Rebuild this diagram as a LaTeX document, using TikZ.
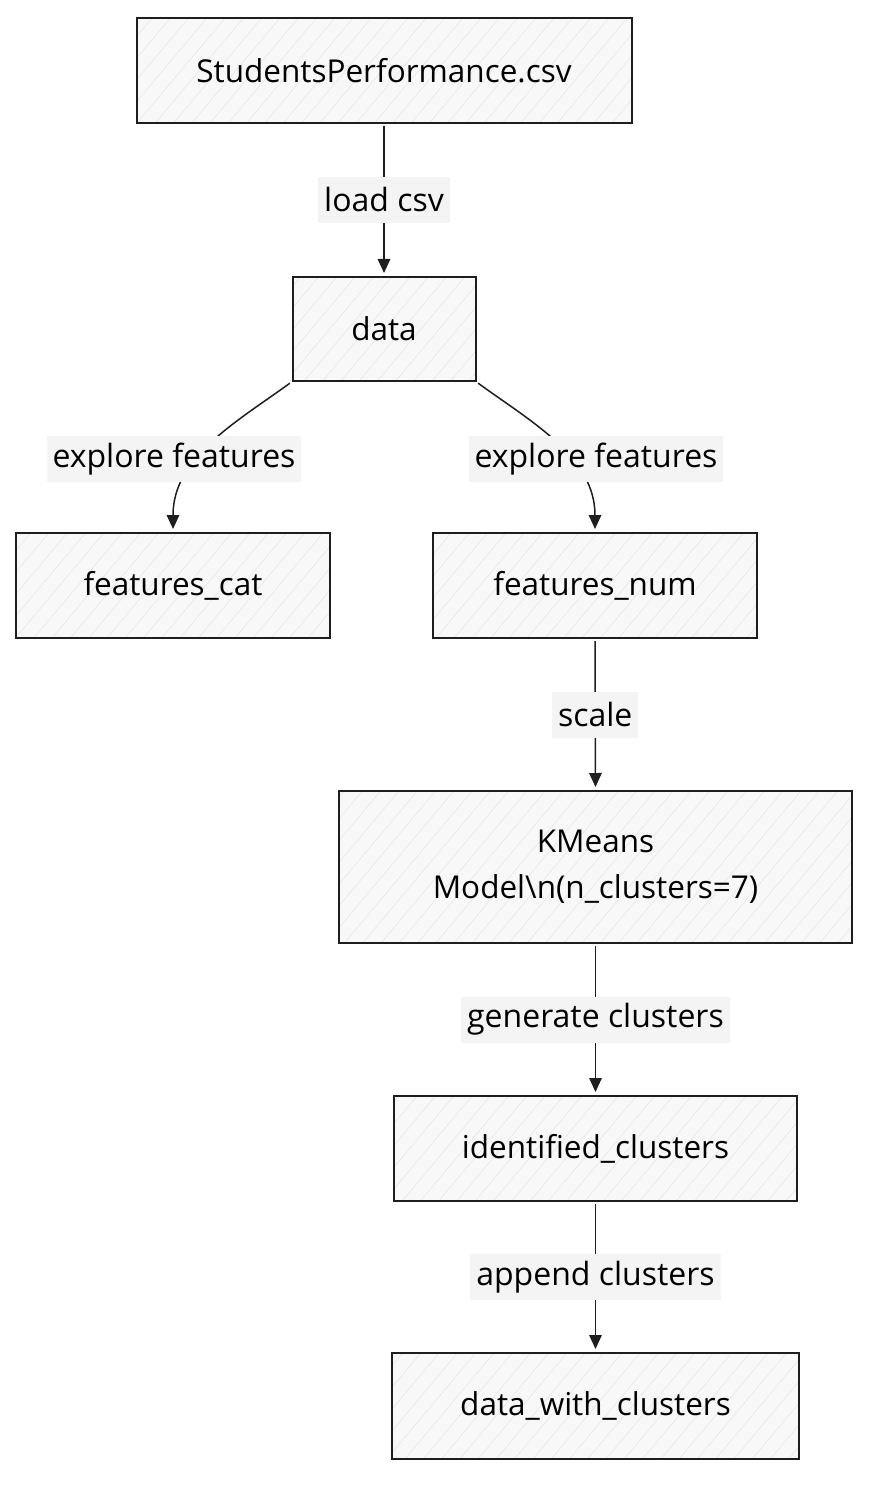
\documentclass[tikz,border=0pt]{standalone}
\usepackage{fontspec}
\setmainfont{Open Sans}
\usetikzlibrary{arrows.meta,patterns.meta}
\definecolor{boxfill}{HTML}{F8F8F8}
\definecolor{hatch}{HTML}{E4E4E4}
\definecolor{lblfill}{HTML}{F4F4F4}
\definecolor{edgecol}{HTML}{1E1E1E}
\tikzset{
  stepbox/.style={draw=edgecol, line width=2pt, minimum height=105pt, inner sep=0pt,
    preaction={fill=boxfill},
    pattern={Lines[angle=50,distance=14pt,line width=0.5pt]}, pattern color=hatch,
    font=\fontsize{31.5}{46}\selectfont, align=center},
  edgelbl/.style={fill=lblfill, inner xsep=6pt, inner ysep=0pt, minimum height=46pt,
    font=\fontsize{32}{36}\selectfont},
  arr/.style={-{Triangle[length=14pt,width=12.5pt]}, line width=1.5pt, draw=edgecol,
    shorten >=3pt, shorten <=2pt}
}
\begin{document}
\begin{tikzpicture}[x=1pt, y=-1pt]
    \useasboundingbox[fill=white] (0,0) rectangle (886,1506);
    % boxes
    \node[stepbox, minimum width=495pt] (csv) at (384,71) {StudentsPerformance.csv};
    \node[stepbox, minimum width=183pt, minimum height=104pt] (data) at (384,329) {data};
    \node[stepbox, minimum width=314pt] (fcat) at (173,585.5) {features\_cat};
    \node[stepbox, minimum width=324pt] (fnum) at (595,585.5) {features\_num};
    \node[stepbox, minimum width=513pt, minimum height=152pt] (kmeans) at (595.5,867)
        {KMeans\\Model\textbackslash n(n\_clusters=7)};
    \node[stepbox, minimum width=403pt] (ident) at (595.5,1148.5) {identified\_clusters};
    \node[stepbox, minimum width=407pt, minimum height=106pt] (dwc) at (595.5,1406) {data\_with\_clusters};
    % connectors
    \draw[arr] (csv.south) -- node[edgelbl] {load csv} (data.north);
    \draw[arr] (data.south west) .. controls +(-55,40) and +(0,-75) .. (fcat.north);
    \draw[arr] (data.south east) .. controls +(55,40) and +(0,-75) .. (fnum.north);
    \node[edgelbl] (lblcat) at (174,459) {explore features};
    \node[edgelbl] (lblnum) at (596,459) {explore features};
    \draw[arr] (fnum.south) -- node[edgelbl] {scale} (kmeans.north);
    \draw[arr] (kmeans.south) -- node[edgelbl] {generate clusters} (ident.north);
    \draw[arr] (ident.south) -- node[edgelbl] {append clusters} (dwc.north);
\end{tikzpicture}
\end{document}
